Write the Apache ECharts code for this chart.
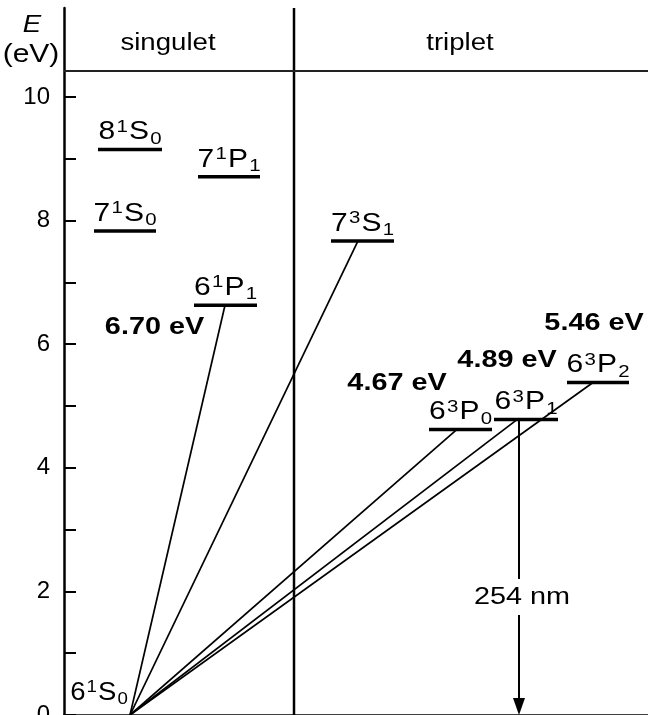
<!DOCTYPE html>
<html><head><meta charset="utf-8">
<script src="https://cdn.jsdelivr.net/npm/echarts@6/dist/echarts.min.js"></script>
<style>html,body{margin:0;padding:0;background:#fff}#c{width:648px;height:715px}</style>
</head><body><div id="c"></div>
<script>
// ---------- data ----------
const yTickValues = [0, 1, 2, 3, 4, 5, 6, 7, 8, 9, 10];
const yLabelValues = [0, 2, 4, 6, 8, 10];
const yMax = 11.44;
const xMax = 584;

// energy levels (term symbols n ^(2S+1) L _J)
const levelN    = ['8', '7', '7', '6', '7', '6', '6', '6'];
const levelMult = ['1', '1', '1', '1', '3', '3', '3', '3'];
const levelL    = ['S', 'P', 'S', 'P', 'S', 'P', 'P', 'P'];
const levelJ    = ['0', '1', '0', '1', '1', '0', '1', '2'];
const levelE    = [9.15, 8.71, 7.83, 6.63, 7.67, 4.62, 4.78, 5.38];
const levelX0   = [34, 134, 30, 130, 267, 365, 430, 503];
const levelX1   = [98, 196, 92, 193, 330, 428, 494, 565];

// ground state 6¹S₀
const groundX = 66;
const groundE = 0;
const groundLabelX = 35;
const groundLabelE = 0.08;

// transitions from the ground state
const transX = [161, 294, 393, 453, 529];
const transE = [6.63, 7.67, 4.62, 4.78, 5.38];

// transition energies
const energyText = ['6.70 eV', '4.67 eV', '4.89 eV', '5.46 eV'];
const energyX = [90.5, 333, 443, 530];
const energyE = [6.28, 5.37, 5.74, 6.34];

// 254 nm emission
const arrowX = 455;
const arrowTopE = 4.78;
const arrowBottomE = 0;
const arrowLabel = '254 nm';
const arrowLabelX = 458;
const arrowLabelE = 1.91;

// column headers
const columnNames = ['singulet', 'triplet'];
const columnX = [104, 396];
const columnE = 10.86;
const dividerX = 230;
const headerLineE = 10.42;

// ---------- chart ----------
const FONT = 'Liberation Sans, Arial, Helvetica, sans-serif';
const SX = 1.2;
const levelRich = {
  m:   { fontSize: 25, fontFamily: FONT, fill: '#000', lineHeight: 30 },
  sup: { fontSize: 17, fontFamily: FONT, fill: '#000', lineHeight: 17, verticalAlign: 'top', padding: [1, 1, 0, 1] },
  sub: { fontSize: 17, fontFamily: FONT, fill: '#000', lineHeight: 17, verticalAlign: 'bottom', padding: [0, 0, 0, 1] }
};
function termText(n, m, l, j) {
  return '{m|' + n + '}{sup|' + m + '}{m|' + l + '}{sub|' + j + '}';
}

const levelData = levelE.map((e, i) => [levelX0[i], levelX1[i], e]);
const transData = transX.map((x, i) => [x, transE[i]]);
const energyData = energyX.map((x, i) => [x, energyE[i]]);

const chart = echarts.init(document.getElementById('c'), null, { renderer: 'canvas' });
chart.setOption({
  animation: false,
  backgroundColor: '#fff',
  grid: { left: 64, right: 0, top: 8, bottom: 0, containLabel: false, outerBoundsMode: 'none' },
  xAxis: {
    type: 'value', min: 0, max: xMax, position: 'top',
    axisLine: { show: true, lineStyle: { color: '#000', width: 2.5 } },
    axisTick: { show: false }, axisLabel: { show: false }, splitLine: { show: false }
  },
  yAxis: {
    type: 'value', min: 0, max: yMax,
    axisLine: { show: true, lineStyle: { color: '#000', width: 2.5 } },
    axisTick: { show: true, inside: true, length: 12, lineStyle: { color: '#000', width: 2 }, customValues: yTickValues },
    axisLabel: { color: '#000', fontSize: 24, fontFamily: FONT, margin: 14, customValues: yLabelValues },
    splitLine: { show: false }
  },
  graphic: [
    { type: 'text', x: 32, y: 26, scaleX: SX, style: { text: 'E', fontSize: 23, fontStyle: 'italic', fontFamily: FONT, fill: '#000', align: 'center', verticalAlign: 'middle' } },
    { type: 'text', x: 31, y: 55, scaleX: SX, style: { text: '(eV)', fontSize: 25, fontFamily: FONT, fill: '#000', align: 'center', verticalAlign: 'middle' } }
  ],
  series: [
    { // frame: divider + header line + column names
      type: 'custom', z: 1, silent: true,
      data: [[0]],
      renderItem: function (params, api) {
        const dTop = api.coord([dividerX, yMax]);
        const dBot = api.coord([dividerX, 0]);
        const hL = api.coord([0, headerLineE]);
        const hR = api.coord([xMax, headerLineE]);
        const children = [
          { type: 'line', shape: { x1: dTop[0], y1: dTop[1], x2: dBot[0], y2: dBot[1] }, style: { stroke: '#000', lineWidth: 2.5 } },
          { type: 'line', shape: { x1: hL[0], y1: hL[1], x2: hR[0], y2: hR[1] }, style: { stroke: '#222', lineWidth: 2 } }
        ];
        columnNames.forEach(function (name, i) {
          const p = api.coord([columnX[i], columnE]);
          children.push({ type: 'text', x: p[0], y: p[1], scaleX: SX, style: { text: name, fontSize: 23, fontFamily: FONT, fill: '#000', align: 'center', verticalAlign: 'middle' } });
        });
        return { type: 'group', children: children };
      }
    },
    { // transitions
      type: 'custom', z: 2, silent: true,
      data: transData,
      renderItem: function (params, api) {
        const g = api.coord([groundX, groundE]);
        const p = api.coord([api.value(0), api.value(1)]);
        return { type: 'line', shape: { x1: g[0], y1: g[1], x2: p[0], y2: p[1] }, style: { stroke: '#000', lineWidth: 1.7 } };
      }
    },
    { // energy levels with term labels
      type: 'custom', z: 3, silent: true,
      data: levelData,
      renderItem: function (params, api) {
        const i = params.dataIndex;
        const e = api.value(2);
        const p0 = api.coord([api.value(0), e]);
        const p1 = api.coord([api.value(1), e]);
        return { type: 'group', children: [
          { type: 'line', shape: { x1: p0[0], y1: p0[1], x2: p1[0], y2: p1[1] }, style: { stroke: '#000', lineWidth: 3.5 } },
          { type: 'text', x: (p0[0] + p1[0]) / 2, y: p0[1] - 2, scaleX: SX,
            style: { text: termText(levelN[i], levelMult[i], levelL[i], levelJ[i]), rich: levelRich, fill: '#000', align: 'center', verticalAlign: 'bottom' } }
        ] };
      }
    },
    { // ground state label
      type: 'custom', z: 3, silent: true,
      data: [[groundLabelX, groundLabelE]],
      renderItem: function (params, api) {
        const p = api.coord([api.value(0), api.value(1)]);
        return { type: 'text', x: p[0], y: p[1] - 2, scaleX: 1.1,
          style: { text: termText('6', '1', 'S', '0'), rich: levelRich, fill: '#000', align: 'center', verticalAlign: 'bottom' } };
      }
    },
    { // transition energies
      type: 'custom', z: 4, silent: true,
      data: energyData,
      renderItem: function (params, api) {
        const p = api.coord([api.value(0), api.value(1)]);
        return { type: 'text', x: p[0], y: p[1], scaleX: SX,
          style: { text: energyText[params.dataIndex], fontSize: 24, fontWeight: 'bold', fontFamily: FONT, fill: '#000', align: 'center', verticalAlign: 'middle' } };
      }
    },
    { // 254 nm arrow
      type: 'custom', z: 5, silent: true,
      data: [[arrowX, arrowTopE, arrowBottomE]],
      renderItem: function (params, api) {
        const top = api.coord([api.value(0), api.value(1)]);
        const bot = api.coord([api.value(0), api.value(2)]);
        const headL = 17, headW = 6;
        return { type: 'group', children: [
          { type: 'line', shape: { x1: top[0], y1: top[1], x2: bot[0], y2: bot[1] - headL + 2 }, style: { stroke: '#000', lineWidth: 2 } },
          { type: 'polygon', shape: { points: [[bot[0], bot[1]], [bot[0] - headW, bot[1] - headL], [bot[0] + headW, bot[1] - headL]] }, style: { fill: '#000' } }
        ] };
      }
    },
    { // 254 nm label
      type: 'custom', z: 6, silent: true,
      data: [[arrowLabelX, arrowLabelE]],
      renderItem: function (params, api) {
        const p = api.coord([api.value(0), api.value(1)]);
        return { type: 'text', x: p[0], y: p[1], scaleX: SX,
          style: { text: arrowLabel, fontSize: 24, fontFamily: FONT, fill: '#000', align: 'center', verticalAlign: 'middle', backgroundColor: '#fff', padding: [6, 0] } };
      }
    }
  ]
});
</script>
</body></html>
